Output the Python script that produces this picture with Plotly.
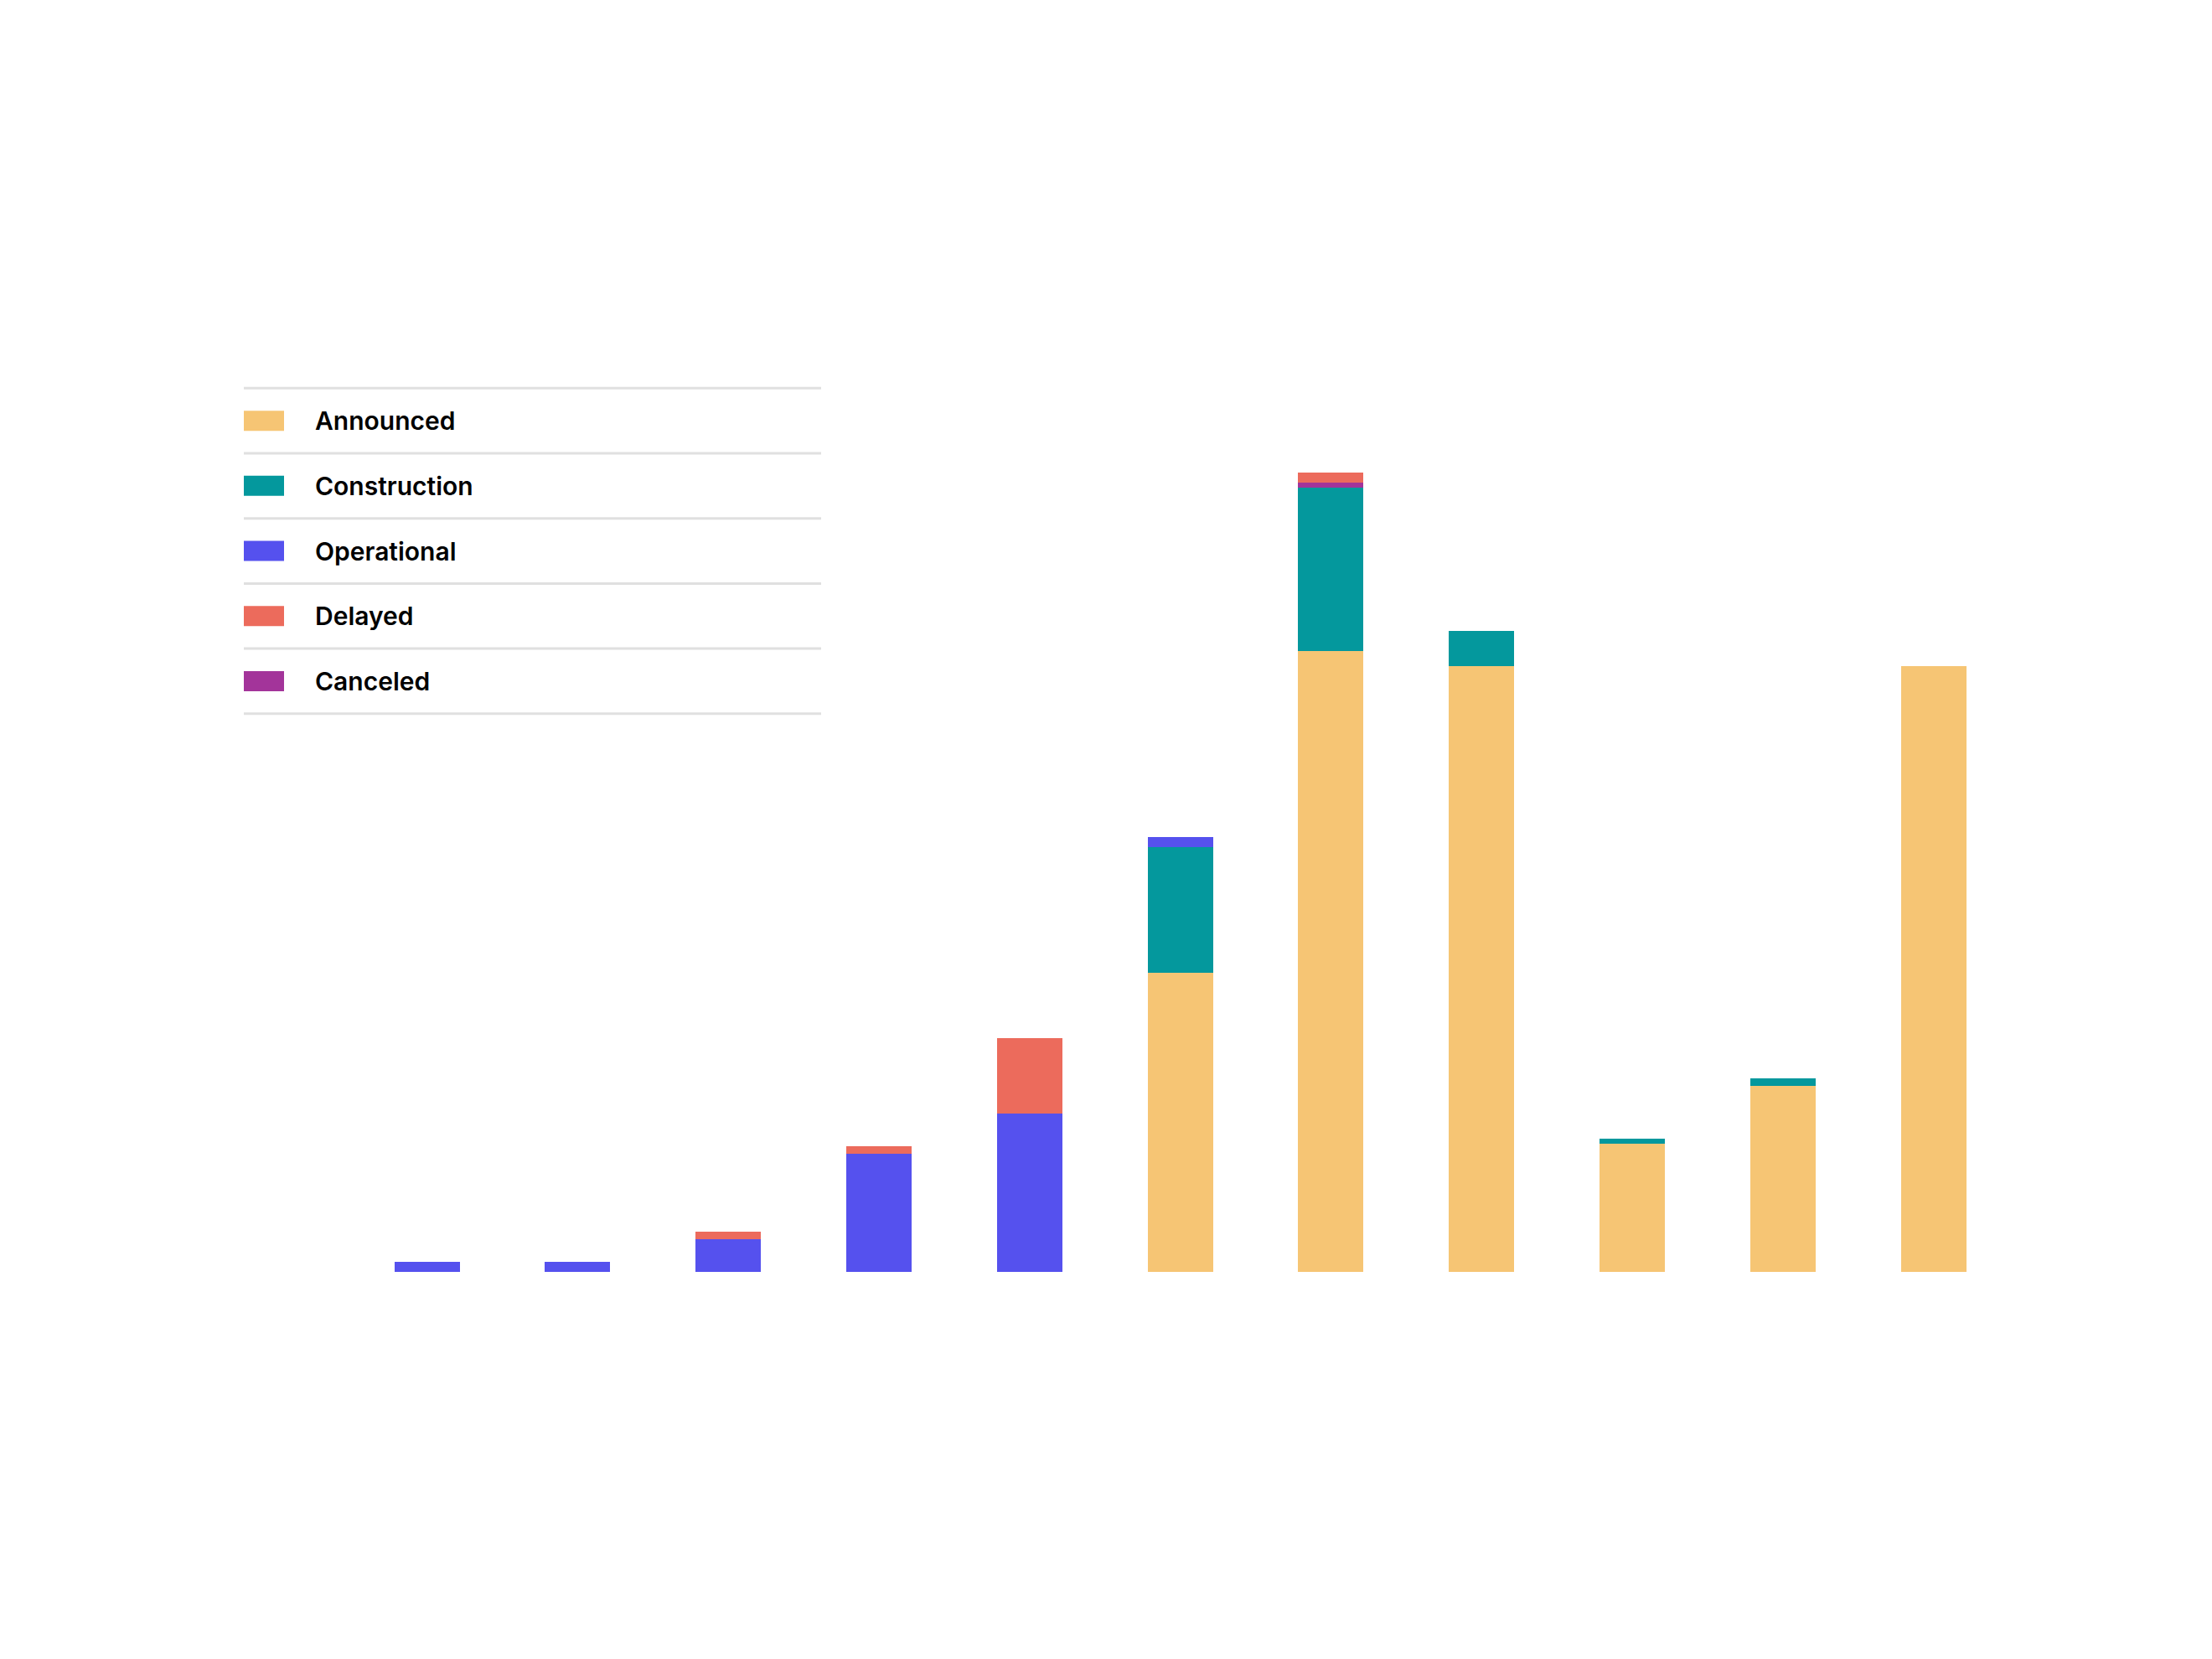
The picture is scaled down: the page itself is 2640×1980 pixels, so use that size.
import plotly.graph_objects as go

# categories (axis is hidden in the original)
years = ['2015', '2016', '2017', '2018', '2019', '2020', '2021', '2022', '2023', '2024', '2025']

# series values
announced = [0, 0, 0, 0, 0, 119, 247, 241, 51, 74, 241]
construction = [0, 0, 0, 0, 0, 50, 65, 14, 2, 3, 0]
operational = [4, 4, 13, 47, 63, 4, 0, 0, 0, 0, 0]
canceled = [0, 0, 0, 0, 0, 0, 2, 0, 0, 0, 0]
delayed = [0, 0, 3, 3, 30, 0, 4, 0, 0, 0, 0]

legend_labels = ['Announced', 'Construction', 'Operational', 'Delayed', 'Canceled']

COLORS = {
    'Announced': '#F6C574',
    'Construction': '#04989D',
    'Operational': '#5551EE',
    'Delayed': '#EC6B5C',
    'Canceled': '#A3349A',
}

W, H = 2640, 1980
OFFSET = 8  # page body margin in the browser

# stacking order, bottom to top
stack = [
    ('Announced', announced),
    ('Construction', construction),
    ('Operational', operational),
    ('Canceled', canceled),
    ('Delayed', delayed),
]

fig = go.Figure()
for name, vals in stack:
    fig.add_trace(go.Bar(
        x=years,
        y=vals,
        name=name,
        marker=dict(color=COLORS[name], line=dict(width=0)),
        showlegend=False,
    ))

# hand-drawn legend: swatch, label and a thin rule between rows
row_h = 77.7
top = 463.3


def px(x):
    return (x - OFFSET) / W


def py(y):
    return 1 - (y - OFFSET) / H


shapes = []
annotations = []
for i in range(len(legend_labels) + 1):
    y = top + i * row_h
    shapes.append(dict(
        type='line', xref='paper', yref='paper',
        x0=px(291), x1=px(980), y0=py(y), y1=py(y),
        line=dict(color='#E0E0E0', width=3),
    ))

for i, label in enumerate(legend_labels):
    yc = top + (i + 0.5) * row_h
    shapes.append(dict(
        type='rect', xref='paper', yref='paper',
        x0=px(291), x1=px(339), y0=py(yc - 12), y1=py(yc + 12),
        fillcolor=COLORS[label], line=dict(width=0),
    ))
    annotations.append(dict(
        xref='paper', yref='paper', x=px(374), y=py(yc),
        xanchor='left', yanchor='middle', showarrow=False,
        text=label,
        font=dict(family='Inter', size=30, color='#000000', weight=600),
    ))

fig.update_layout(
    width=W,
    height=H,
    margin=dict(l=0, r=0, t=0, b=0),
    barmode='stack',
    bargap=0.566,
    plot_bgcolor='#FFFFFF',
    paper_bgcolor='#FFFFFF',
    showlegend=False,
    shapes=shapes,
    annotations=annotations,
    xaxis=dict(
        type='category',
        range=[-2.790, 11.893],
        visible=False,
    ),
    yaxis=dict(
        range=[-156.67, 503.33],
        visible=False,
    ),
)

fig.write_html("out.html")
